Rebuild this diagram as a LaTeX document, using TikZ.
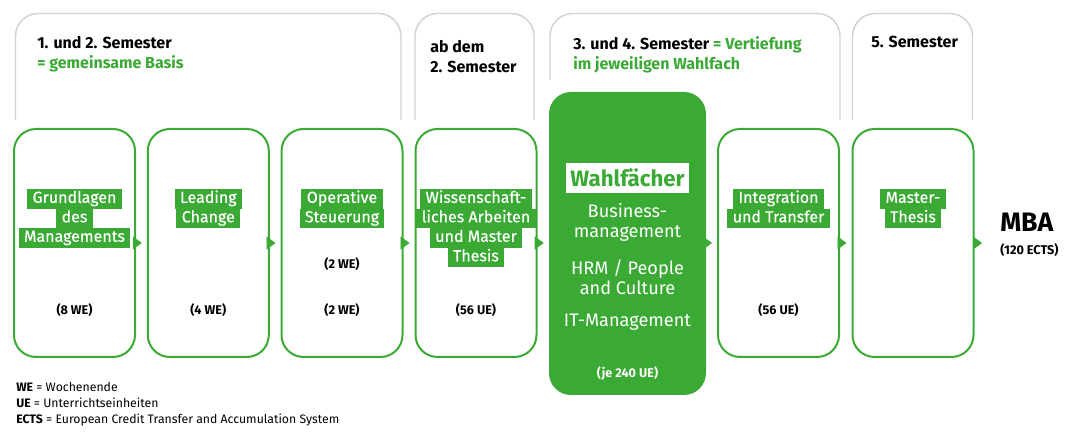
\documentclass[tikz,border=0pt]{standalone}
\usepackage{fontspec}
\setmainfont{Fira Sans}
\usetikzlibrary{arrows.meta}

\definecolor{wgreen}{RGB}{59,170,53}
\definecolor{framegray}{RGB}{210,210,210}
\setlength{\fboxsep}{0pt}
% green highlight behind each label line
\newcommand{\hlg}[1]{\colorbox{wgreen}{\rule[-4.4pt]{0pt}{14.6pt}\hspace{4pt}#1\hspace{4pt}}}
\newcommand{\hlw}[1]{\colorbox{white}{\rule[-5.25pt]{0pt}{22.5pt}\hspace{3pt}\textcolor{wgreen}{#1}\hspace{3pt}}}

\tikzset{
  modbox/.style={draw=wgreen, line width=1.5pt, rounded corners=16.5pt, minimum width=90.75pt, minimum height=171pt, inner sep=0pt},
  wahlbox/.style={fill=wgreen, rounded corners=16.5pt, minimum width=117.75pt, minimum height=227.25pt, inner sep=0pt},
  semframe/.style={draw=framegray, line width=1.1pt, rounded corners=17pt},
  lbl/.style={text=white, align=center, inner sep=0pt, anchor=north, font=\fontsize{12}{14.6}\selectfont\addfontfeatures{FakeBold=0.4}},
  hours/.style={inner sep=0pt, font=\bfseries\fontsize{9.5}{11}\selectfont},
  head/.style={inner sep=0pt, align=left, anchor=north west, font=\bfseries\fontsize{12}{15}\selectfont},
  wahlitem/.style={text=white, align=center, inner sep=0pt, font=\fontsize{13.6}{15}\selectfont},
  flow/.style={color=wgreen, -{Triangle[length=6.75pt,width=9.75pt]}, shorten >=3.75pt},
}

\begin{document}
\begin{tikzpicture}[x=0.75pt, y=-0.75pt]
\useasboundingbox (0,0) rectangle (1076,441);

% semester frames
\draw[semframe] (15.5,120) -- (15.5,13.5) -- (401,13.5) -- (401,120);
\draw[semframe] (415,120) -- (415,13.5) -- (534,13.5) -- (534,120);
\draw[semframe] (550,80) -- (550,13.5) -- (840,13.5) -- (840,120);
\draw[semframe] (852.5,120) -- (852.5,13.5) -- (972.5,13.5) -- (972.5,120);

\node[head] (h1) at (37,36) {1. und 2. Semester\\\textcolor{wgreen}{= gemeinsame Basis}};
\node[head] (h2) at (430,40) {ab dem\\2. Semester};
\node[head] (h3) at (573,36) {3. und 4. Semester \textcolor{wgreen}{= Vertiefung}\\\textcolor{wgreen}{im jeweiligen Wahlfach}};
\node[head] (h4) at (871,36) {5. Semester};

% modules
\node[modbox] (b1) at (74.5,243) {};
\node[modbox] (b2) at (208.3,243) {};
\node[modbox] (b3) at (342,243) {};
\node[modbox] (b4) at (476,243) {};
\node[wahlbox] (b5) at (627.5,243.5) {};
\node[modbox] (b6) at (778.5,243) {};
\node[modbox] (b7) at (913,243) {};

\node[lbl] (l1) at (74.5,189) {\hlg{Grundlagen}\\\hlg{des}\\\hlg{Managements}};
\node[lbl] (l2) at (208.3,189) {\hlg{Leading}\\\hlg{Change}};
\node[lbl] (l3) at (342,189) {\hlg{Operative}\\\hlg{Steuerung}};
\node[lbl] (l4) at (476,189) {\hlg{Wissenschaft-}\\\hlg{liches Arbeiten}\\\hlg{und Master}\\\hlg{Thesis}};
\node[lbl] (l6) at (778.5,189) {\hlg{Integration}\\\hlg{und Transfer}};
\node[lbl] (l7) at (913,189) {\hlg{Master-}\\\hlg{Thesis}};

\node[lbl, font=\bfseries\fontsize{16.7}{20}\selectfont] (l5) at (627.5,163) {\hlw{Wahlfächer}};
\node[wahlitem] (w1) at (627.5,222) {Business-\\management};
\node[wahlitem] (w2) at (627.5,277) {HRM / People\\and Culture};
\node[wahlitem] (w3) at (627.5,322) {IT-Management};

\node[hours] (t1) at (74.5,310) {(8 WE)};
\node[hours] (t2) at (208.3,310) {(4 WE)};
\node[hours] (t3a) at (342,264) {(2 WE)};
\node[hours] (t3) at (342,310) {(2 WE)};
\node[hours] (t4) at (476,310) {(56 UE)};
\node[hours, text=white] (t5) at (627.5,373) {(je 240 UE)};
\node[hours] (t6) at (778.5,310) {(56 UE)};

\node[inner sep=0pt, anchor=base west, font=\bfseries\fontsize{20}{22}\selectfont] (mba) at (1000,231.5) {MBA};
\node[hours, anchor=west] (ects) at (1000,250) {(120 ECTS)};

\draw[flow] (b1.east) -- (b2.west);
\draw[flow] (b2.east) -- (b3.west);
\draw[flow] (b3.east) -- (b4.west);
\draw[flow] (b4.east) -- (b5.west |- b4.east);
\draw[flow] (b5.east |- b6.west) -- (b6.west);
\draw[flow] (b6.east) -- (b7.west);
\draw[flow, shorten >=13.5pt] (b7.east) -- (b7.east -| mba.west);

% legend
\node[inner sep=0pt, align=left, anchor=north west, font=\fontsize{9.2}{12}\selectfont] (leg) at (16,382)
  {\textbf{WE} = Wochenende\\\textbf{UE} = Unterrichtseinheiten\\\textbf{ECTS} = European Credit Transfer and Accumulation System};
\end{tikzpicture}
\end{document}
